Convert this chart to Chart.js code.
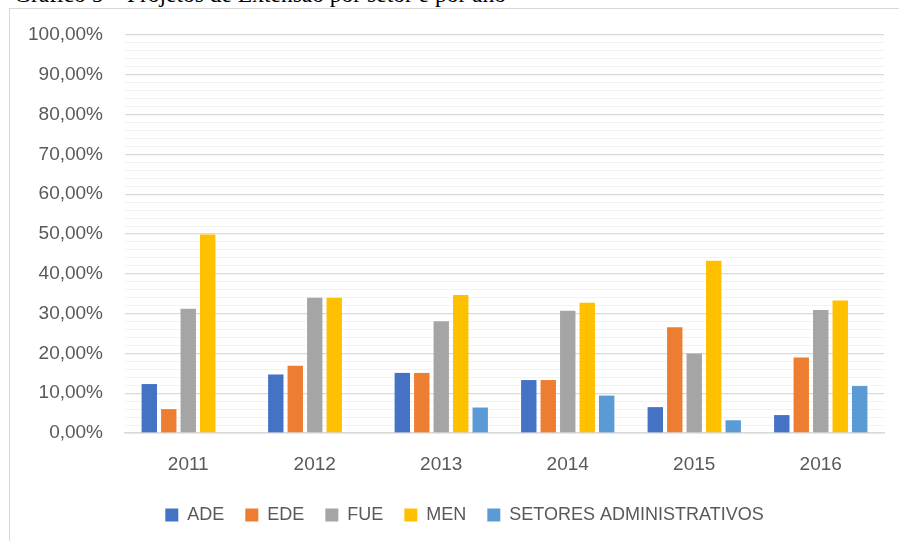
<!DOCTYPE html>
<html>
<head>
<meta charset="utf-8">
<script src="https://cdn.jsdelivr.net/npm/chart.js@4/dist/chart.umd.min.js"></script>
<style>
  html, body { margin: 0; padding: 0; background: #fff; overflow: hidden; width: 899px; height: 541px; }
  #caption { position: absolute; left: 14px; top: -17.5px; font-family: "Liberation Serif", serif; font-size: 23.5px; line-height: 23.5px; color: #000; white-space: nowrap; }
  #box { position: absolute; left: 9px; top: 8px; width: 900px; height: 551px; border-left: 1px solid #d9d9d9; border-top: 1px solid #d9d9d9; }
  #box canvas { display: block; }
</style>
</head>
<body>
<div id="caption">Gráfico 5 – Projetos de Extensão por setor e por ano</div>
<div id="box"><canvas id="chart" width="900" height="551"></canvas></div>
<script>
const anos = ['2011', '2012', '2013', '2014', '2015', '2016'];
const ade = [12.3, 14.7, 15.1, 13.3, 6.5, 4.5];
const ede = [6.0, 16.9, 15.1, 13.3, 26.6, 19.0];
const fue = [31.2, 34.0, 28.1, 30.7, 20.0, 30.9];
const men = [49.9, 34.0, 34.7, 32.7, 43.3, 33.3];
const setores = [0, 0, 6.4, 9.4, 3.2, 11.8];

const cores = ['#4472C4', '#ED7D31', '#A5A5A5', '#FFC000', '#5B9BD5'];
const texto = '#595959';

function serie(label, data, cor) {
  return { label: label, data: data, backgroundColor: cor, borderWidth: 0,
           categoryPercentage: 0.77, barPercentage: 0.79 };
}

new Chart(document.getElementById('chart').getContext('2d'), {
  type: 'bar',
  data: {
    labels: anos,
    datasets: [
      serie('ADE', ade, cores[0]),
      serie('EDE', ede, cores[1]),
      serie('FUE', fue, cores[2]),
      serie('MEN', men, cores[3]),
      serie('SETORES ADMINISTRATIVOS', setores, cores[4])
    ]
  },
  options: {
    responsive: false,
    animation: false,
    layout: { padding: { left: 15, right: 6, top: 26, bottom: 26 } },
    plugins: {
      tooltip: { enabled: false },
      legend: {
        position: 'bottom',
        labels: {
          boxWidth: 13, boxHeight: 13, padding: 21, color: texto,
          font: { family: 'Liberation Sans', size: 18 }
        }
      }
    },
    scales: {
      x: {
        grid: { display: false, drawTicks: false },
        border: { color: '#d9d9d9', width: 1.5 },
        ticks: { color: texto, padding: 20, font: { family: 'Liberation Sans', size: 19 } },
        afterFit: function(s) { s.height = 52; }
      },
      y: {
        min: 0, max: 100,
        border: { display: false },
        grid: {
          drawTicks: false,
          color: c => (c.tick && c.tick.value % 10 === 0) ? '#d9d9d9' : '#f2f2f2',
          lineWidth: c => (c.tick && c.tick.value % 10 === 0) ? 1.3 : 1
        },
        ticks: {
          stepSize: 2, autoSkip: false, padding: 22, color: texto,
          font: { family: 'Liberation Sans', size: 19, lineHeight: 0.4 },
          callback: v => v % 10 === 0 ? v.toFixed(2).replace('.', ',') + '%' : ''
        },
        afterFit: function(s) { s.width = 100; }
      },
      // empty strip on the right so the legend sits where the original has it
      margem: {
        position: 'right',
        grid: { display: false, drawTicks: false },
        border: { display: false },
        ticks: { display: false },
        afterFit: function(s) { s.width = 20; }
      }
    }
  }
});
</script>
</body>
</html>
